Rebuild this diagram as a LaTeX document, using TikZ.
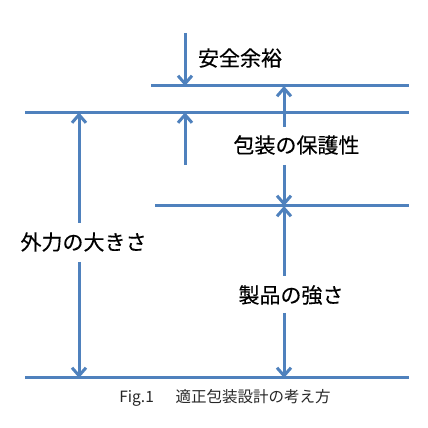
\documentclass[tikz,border=0pt]{standalone}
\usepackage{fontspec}
\setmainfont{Noto Sans CJK JP}
\newfontfamily\lblfont[FakeBold=0.3]{Noto Sans CJK JP}
\usetikzlibrary{arrows.meta}
\definecolor{lineblue}{RGB}{79,129,189}
\tikzset{
  hline/.style={draw=lineblue, line width=3pt},
  arr/.style={draw=lineblue, line width=3pt, -{Straight Barb[length=8pt,width=14pt,line width=3pt]}},
  lbl/.style={font=\lblfont\fontsize{21}{24}\selectfont, inner sep=0pt, text=black},
  captxt/.style={font=\fontsize{15.5}{18}\selectfont, inner sep=0pt, text=black!85}
}
\begin{document}
\begin{tikzpicture}[x=1pt,y=1pt]
\useasboundingbox (0,0) rectangle (428,428);
% horizontal lines
\coordinate (l1a) at (151,342); \coordinate (l1b) at (409,342);
\coordinate (l2a) at (25,315.5); \coordinate (l2b) at (409,315.5);
\coordinate (l3a) at (155,222); \coordinate (l3b) at (409,222);
\coordinate (l4a) at (25,50);  \coordinate (l4b) at (409,50);
\draw[hline] (l1a) -- (l1b);
\draw[hline] (l2a) -- (l2b);
\draw[hline] (l3a) -- (l3b);
\draw[hline] (l4a) -- (l4b);
% labels
\node[lbl] (anzen) at (240,370) {安全余裕};
\node[lbl] (hogo) at (296.5,283) {包装の保護性};
\node[lbl] (gairyoku) at (83.5,186) {外力の大きさ};
\node[lbl] (seihin) at (291,133) {製品の強さ};
\node[captxt] (caption) at (225,30) {Fig.1\hspace{1.4em}適正包装設計の考え方};
% arrow endpoints
\coordinate (a1s) at (185,395); \coordinate (a1e) at (185,342);
\coordinate (a2s) at (185,263); \coordinate (a2e) at (185,315.5);
\coordinate (g1s) at (79,205);  \coordinate (g1e) at (79,315.5);
\coordinate (g2s) at (79,166);  \coordinate (g2e) at (79,50);
\coordinate (p1s) at (284,301); \coordinate (p1e) at (284,342);
\coordinate (p2s) at (284,263); \coordinate (p2e) at (284,222);
\coordinate (s1s) at (284,152); \coordinate (s1e) at (284,222);
\coordinate (s2s) at (284,115); \coordinate (s2e) at (284,50);
% arrows
\draw[arr] (a1s) -- (a1e);
\draw[arr] (a2s) -- (a2e);
\draw[arr] (g1s) -- (g1e);
\draw[arr] (g2s) -- (g2e);
\draw[arr] (p1s) -- (p1e);
\draw[arr] (p2s) -- (p2e);
\draw[arr] (s1s) -- (s1e);
\draw[arr] (s2s) -- (s2e);
\end{tikzpicture}
\end{document}
